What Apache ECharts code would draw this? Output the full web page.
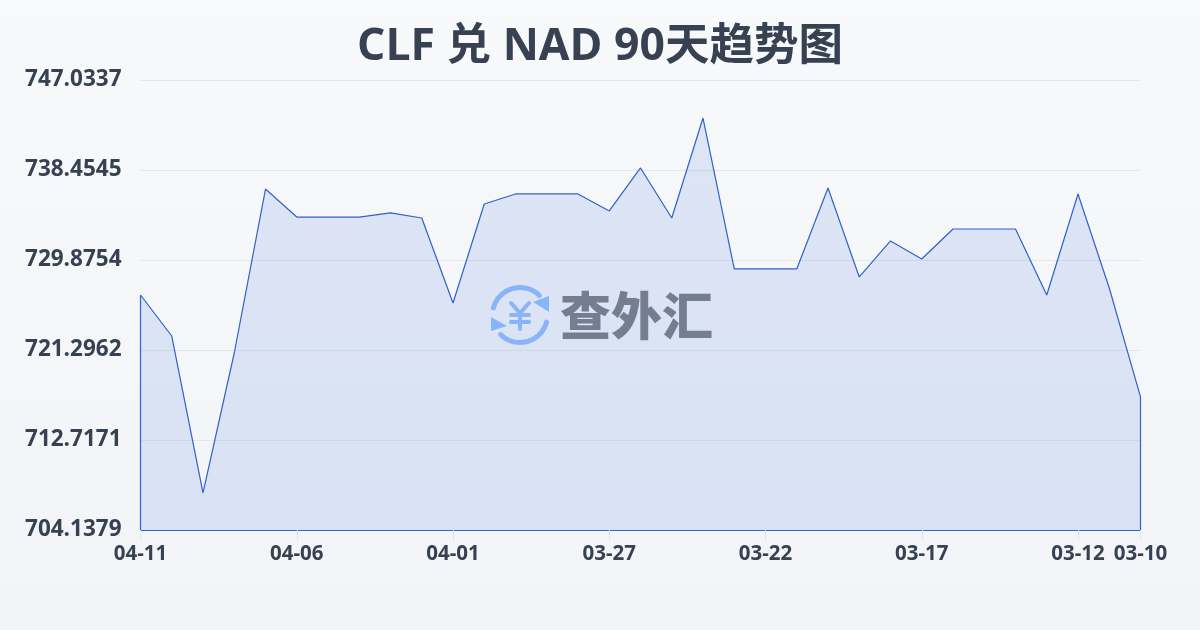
<!DOCTYPE html>
<html><head><meta charset="utf-8">
<style>html,body{margin:0;padding:0;width:1200px;height:630px;overflow:hidden}#c{width:1200px;height:630px}</style>
<script src="https://cdn.jsdelivr.net/npm/echarts@6/dist/echarts.min.js"></script>
</head><body><div id="c"></div>
<script>
const titleText = 'CLF 兑 NAD 90天趋势图';
const watermarkText = '查外汇';
const dates = ['04-11','04-10','04-09','04-08','04-07','04-06','04-05','04-04','04-03','04-02','04-01','03-31','03-30','03-29','03-28','03-27','03-26','03-25','03-24','03-23','03-22','03-21','03-20','03-19','03-18','03-17','03-16','03-15','03-14','03-13','03-12','03-11','03-10'];
const rates = [726.54,722.63,707.67,721.01,736.64,733.97,733.97,733.97,734.36,733.88,725.78,735.21,736.17,736.17,736.17,734.55,738.65,733.88,743.41,729.02,729.02,729.02,736.74,728.26,731.69,729.97,732.83,732.83,732.83,726.54,736.17,727.21,716.82];
const yMin = 704.1379, yMax = 747.0337, yStep = 8.57916;
const font = '"Open Sans","Noto Sans CJK SC",sans-serif';
const labelled = i => i % 5 === 0 && i <= 30 || i === dates.length - 1;
const lineBlue = '#2f62c8';
const logoBlue = '#8ab4f8';
const last = dates.length - 1;
const chart = echarts.init(document.getElementById('c'), null, {renderer:'canvas'});
chart.setOption({
  animation:false,
  backgroundColor:{type:'linear',x:0,y:0,x2:0,y2:1,colorStops:[{offset:0,color:'#f8f9fb'},{offset:1,color:'#f2f4f7'}]},
  title:{text:titleText,left:'center',top:20,textStyle:{fontFamily:font,fontSize:44.5,fontWeight:'bold',color:'#374151'}},
  grid:{left:140.5,right:59.5,top:80,bottom:100},
  xAxis:{type:'category',boundaryGap:false,data:dates,
    axisLine:{lineStyle:{color:lineBlue,width:1.2}},
    axisTick:{show:true,length:11,interval:labelled,lineStyle:{color:'#e2e8f0'}},
    axisLabel:{interval:labelled,hideOverlap:false,showMinLabel:true,showMaxLabel:true,margin:14,color:'#374151',fontFamily:font,fontSize:20.5,fontWeight:'bold'},
    splitLine:{show:false}},
  yAxis:{type:'value',min:yMin,max:yMax,interval:yStep,
    axisLine:{show:false},axisTick:{show:false},
    axisLabel:{margin:19,color:'#374151',fontFamily:font,fontSize:22.5,fontWeight:'bold',verticalAlign:'middle',padding:[0,0,4,0],formatter:v=>v.toFixed(4)},
    splitLine:{lineStyle:{color:'#e2e8f0',width:1}}},
  series:[{type:'line',data:rates,symbol:'none',smooth:false,
    lineStyle:{color:lineBlue,width:1.2},
    areaStyle:{origin:'start',color:'rgba(51,102,214,0.19)'},
    markLine:{silent:true,symbol:'none',label:{show:false},animation:false,
      lineStyle:{color:lineBlue,width:1.2,type:'solid'},
      data:[[{coord:[0,rates[0]]},{coord:[0,yMin]}],[{coord:[last,rates[last]]},{coord:[last,yMin]}]]}
  }],
  graphic:{elements:[
    {type:'text',left:560,top:290,z:100,style:{text:watermarkText,fontFamily:'"Noto Sans CJK SC"',fontWeight:900,fontSize:51,fill:'#757e91'}},
    {type:'arc',z:100,shape:{cx:520,cy:315,r:27.5,startAngle:195*Math.PI/180,endAngle:315*Math.PI/180,clockwise:true},style:{stroke:logoBlue,lineWidth:5,fill:null,lineCap:'round'}},
    {type:'arc',z:100,shape:{cx:520,cy:315,r:27.5,startAngle:15*Math.PI/180,endAngle:135*Math.PI/180,clockwise:true},style:{stroke:logoBlue,lineWidth:5,fill:null,lineCap:'round'}},
    {type:'polygon',z:100,shape:{points:[[549,296],[549,312],[533,302]]},style:{fill:logoBlue}},
    {type:'polygon',z:100,shape:{points:[[491,317],[491,331],[507,326]]},style:{fill:logoBlue}},
    {type:'polyline',z:100,shape:{points:[[511,303],[520,313],[529,303]]},style:{stroke:logoBlue,lineWidth:4,fill:null,lineCap:'round'}},
    {type:'line',z:100,shape:{x1:511,y1:315,x2:529,y2:315},style:{stroke:logoBlue,lineWidth:4,lineCap:'round'}},
    {type:'line',z:100,shape:{x1:511,y1:322,x2:529,y2:322},style:{stroke:logoBlue,lineWidth:4,lineCap:'round'}},
    {type:'line',z:100,shape:{x1:520,y1:313,x2:520,y2:329},style:{stroke:logoBlue,lineWidth:4,lineCap:'round'}}
  ]}
});
</script></body></html>
